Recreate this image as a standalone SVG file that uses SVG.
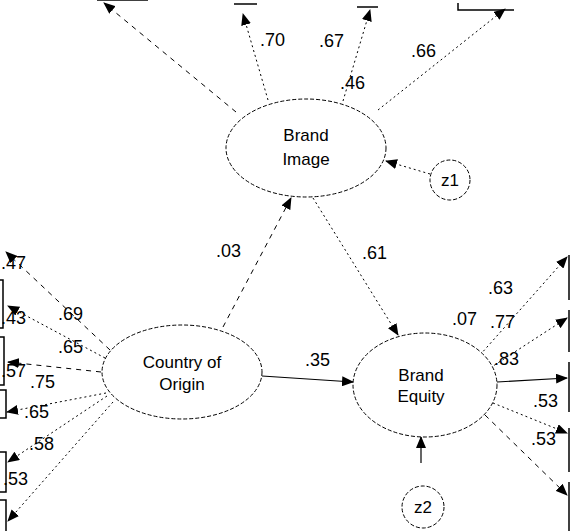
<svg xmlns="http://www.w3.org/2000/svg" width="571" height="531" viewBox="0 0 571 531">
<defs>
<marker id="ah" viewBox="0 0 12 10" refX="11" refY="5" markerWidth="12" markerHeight="10" markerUnits="userSpaceOnUse" orient="auto">
<path d="M0,0 L12,5 L0,10 Z" fill="#000"/>
</marker>
<style>
.node{fill:#fff;stroke:#000;stroke-width:1;stroke-dasharray:4,2}
.box{fill:none;stroke:#000;stroke-width:1.5}
.c{fill:none;stroke:#000;stroke-width:1;marker-end:url(#ah)}
.dot{stroke-dasharray:2,3}
.dash{stroke-dasharray:5,5}
.solid{stroke-width:1.2}
text{font-family:"Liberation Sans",Arial,sans-serif;font-size:17px;fill:#000}
.lbl{text-anchor:middle}
#labels text{font-size:18px}
</style>
</defs>
<rect width="571" height="531" fill="#fff"/>
<g id="indicator-boxes">
<path class="box" d="M97,0 H148"/>
<path class="box" d="M234,4 H257"/>
<path class="box" d="M357,7 H378"/>
<path class="box" d="M458,3 V10 H514"/>
<path class="box" d="M0,280 H3 V328 H0"/>
<path class="box" d="M0,337 H4 V385 H0"/>
<path class="box" d="M0,390 H6 V418 H0"/>
<path class="box" d="M0,452 H6 V492 H0"/>
<path class="box" d="M0,500 H6 V531"/>
<path class="box" d="M569,255 V300"/>
<path class="box" d="M569,310 V352"/>
<path class="box" d="M569,362 V412"/>
<path class="box" d="M569,428 V472"/>
<path class="box" d="M569,482 V531"/>
</g>
<g id="connectors">
<line class="c dash" x1="236" y1="112" x2="104" y2="3"/>
<line class="c dot" x1="268" y1="100" x2="243" y2="14"/>
<line class="c dot" x1="343" y1="101" x2="370" y2="10"/>
<line class="c dot" x1="378" y1="110" x2="505" y2="9"/>
<line class="c dash" x1="223" y1="327" x2="291" y2="198"/>
<line class="c dot" x1="313" y1="198" x2="398" y2="335"/>
<line class="c solid" x1="262" y1="376" x2="353" y2="382"/>
<line class="c dot" x1="430" y1="174" x2="386" y2="161"/>
<line class="c solid" x1="421" y1="463" x2="421" y2="437"/>
<line class="c dash" x1="110" y1="350" x2="6" y2="252"/>
<line class="c dot" x1="105" y1="358" x2="8" y2="306"/>
<line class="c dash" x1="101" y1="372" x2="8" y2="362"/>
<line class="c dot" x1="106" y1="393" x2="7" y2="412"/>
<line class="c dot" x1="107" y1="396" x2="8" y2="462"/>
<line class="c dot" x1="113" y1="402" x2="8" y2="521"/>
<line class="c dot" x1="480" y1="355" x2="567" y2="257"/>
<line class="c dot" x1="490" y1="368" x2="567" y2="318"/>
<line class="c solid" x1="497" y1="382" x2="567" y2="378"/>
<line class="c dot" x1="493" y1="403" x2="567" y2="433"/>
<line class="c dash" x1="485" y1="415" x2="567" y2="495"/>
</g>
<g id="brand-image">
<ellipse class="node" cx="306" cy="148" rx="80" ry="49"/>
<text class="lbl" x="306" y="141">Brand</text>
<text class="lbl" x="306" y="165">Image</text>
</g>
<g id="country-of-origin">
<ellipse class="node" cx="182" cy="372" rx="80" ry="47"/>
<text class="lbl" x="182" y="368">Country of</text>
<text class="lbl" x="182" y="390">Origin</text>
</g>
<g id="brand-equity">
<ellipse class="node" cx="425" cy="385" rx="72" ry="52"/>
<text class="lbl" x="421" y="381">Brand</text>
<text class="lbl" x="421" y="402">Equity</text>
</g>
<g id="z1">
<circle class="node" cx="450" cy="180" r="20"/>
<text class="lbl" x="450" y="186">z1</text>
</g>
<g id="z2">
<circle class="node" cx="423" cy="507" r="21"/>
<text class="lbl" x="423" y="513">z2</text>
</g>
<g id="labels">
<text x="340" y="89">.46</text>
<text x="319" y="47">.67</text>
<text x="411" y="57">.66</text>
<text x="260" y="46">.70</text>
<text x="216" y="257">.03</text>
<text x="362" y="259">.61</text>
<text x="305" y="366">.35</text>
<text x="1" y="269">.47</text>
<text x="58" y="320">.69</text>
<text x="1" y="324">.43</text>
<text x="58" y="353">.65</text>
<text x="1" y="377">.57</text>
<text x="30" y="388">.75</text>
<text x="24" y="418">.65</text>
<text x="29" y="450">.58</text>
<text x="3" y="485">.53</text>
<text x="488" y="294">.63</text>
<text x="452" y="325">.07</text>
<text x="490" y="328">.77</text>
<text x="494" y="365">.83</text>
<text x="533" y="407">.53</text>
<text x="531" y="445">.53</text>
</g>
</svg>
